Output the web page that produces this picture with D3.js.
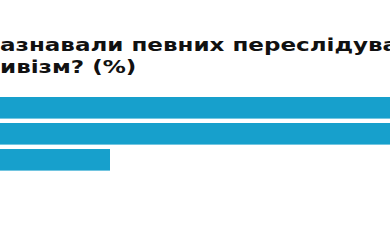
<!DOCTYPE html>
<meta charset="utf-8">
<style>
  body { margin: 0; background: #fff; }
  svg { display: block; }
</style>
<body>
<script src="https://d3js.org/d3.v7.min.js"></script>
<script>

// title lines (the chart is cropped on the left and right)
var titleLines = ["азнавали певних переслідувань через", "ивізм? (%)"];

// answers and their shares, %
var categories = ["Так", "Ні", "Важко відповісти"];
var values = [49, 47, 13];

var width = 390,
    height = 240;

var svg = d3.select("body").append("svg")
    .attr("width", width)
    .attr("height", height);

// title, in a wide bold face: stretch DejaVu horizontally
svg.append("g")
    .attr("transform", "scale(1.28,1)")
  .selectAll("text")
  .data(titleLines)
  .enter().append("text")
    .attr("x", 0)
    .attr("y", function(d, i) { return 51 + i * 22; })
    .attr("font-family", "DejaVu Sans")
    .attr("font-weight", "bold")
    .attr("font-size", 18)
    .attr("fill", "#111")
    .text(function(d) { return d; });

// scales
var x = d3.scaleLinear()
    .domain([0, 13])
    .range([0, 110]);

var y = d3.scaleBand()
    .domain(categories)
    .range([97, 170.6])
    .paddingInner(0.17)
    .paddingOuter(0);

// bars
svg.selectAll(".bar")
    .data(values)
  .enter().append("rect")
    .attr("class", "bar")
    .attr("fill", "#17a0cc")
    .attr("x", x(0))
    .attr("y", function(d, i) { return y(categories[i]); })
    .attr("width", function(d) { return x(d); })
    .attr("height", y.bandwidth());

</script>
</body>
